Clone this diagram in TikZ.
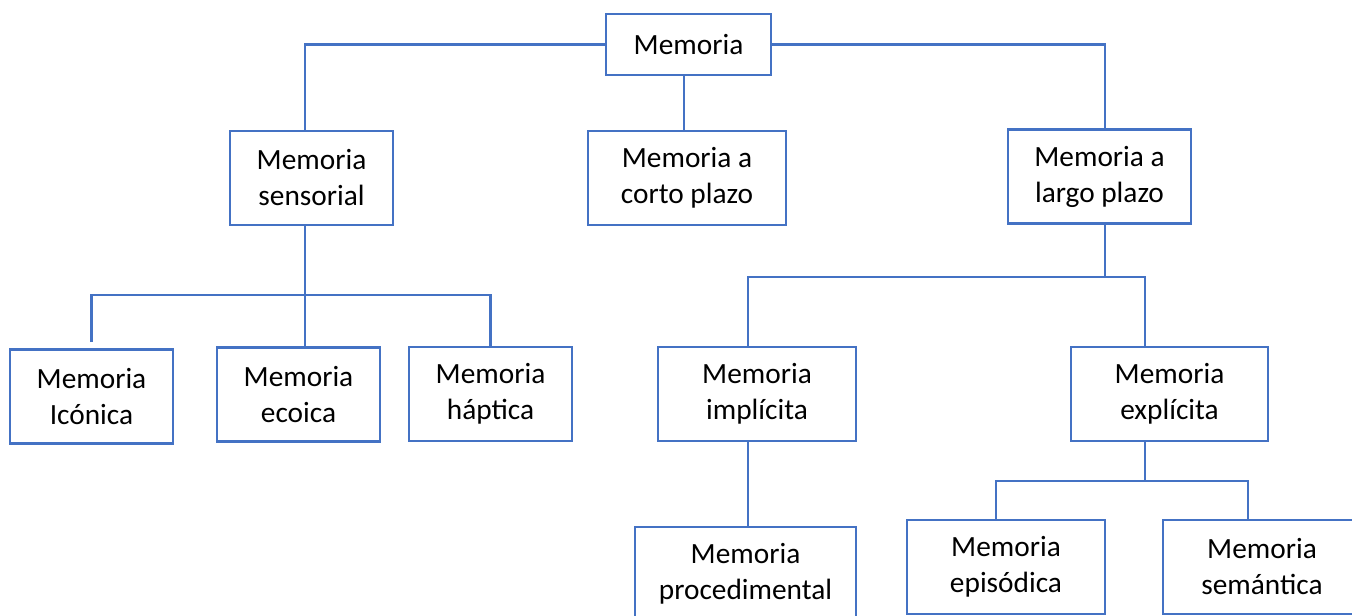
\documentclass[tikz,border=0pt]{standalone}
\usepackage{fontspec}
\setmainfont{Carlito}
\definecolor{memblue}{RGB}{68,114,196}
\begin{document}
\begin{tikzpicture}[x=0.75pt,y=-0.75pt,
    box/.style={draw=memblue,line width=2.2pt,align=center,inner sep=0pt,
      minimum height=70.5pt,font=\fontsize{22}{27}\selectfont},
    link/.style={draw=memblue,line width=2.2pt}]
  \useasboundingbox (0,0) rectangle (1352,616);

  % Top level
  \node[box,minimum width=123.75pt,minimum height=45.75pt] (root) at (688.5,44.5) {Memoria};

  % Second level
  \node[box,minimum width=122.25pt] (sens)  at (311.5,178) {Memoria\\sensorial};
  \node[box,minimum width=148.5pt]  (corto) at (687,178)   {Memoria a\\corto plazo};
  \node[box,minimum width=137.25pt] (largo) at (1099.5,176.5) {Memoria a\\largo plazo};

  % Third level
  \node[box,minimum width=122.25pt] (icon) at (91.5,396.5) {Memoria\\Icónica};
  \node[box,minimum width=122.25pt] (ecoi) at (298.5,394.5) {Memoria\\ecoica};
  \node[box,minimum width=122.25pt] (hapt) at (490.5,394) {Memoria\\háptica};
  \node[box,minimum width=148.5pt]  (impl) at (757,394) {Memoria\\implícita};
  \node[box,minimum width=147.75pt] (expl) at (1169.5,394) {Memoria\\explícita};

  % Fourth level
  \node[box,minimum width=165.75pt] (proc) at (745.5,574) {Memoria\\procedimental};
  \node[box,minimum width=148.5pt]  (epis) at (1006,567) {Memoria\\episódica};
  \node[box,minimum width=148.5pt]  (sema) at (1262,567) {Memoria\\semántica};

  % Junctions
  \coordinate (jC) at (684,0);
  \coordinate (jS) at (305,295);
  \coordinate (jL) at (1105,277);
  \coordinate (jI) at (748,277);
  \coordinate (jE) at (1145,277);
  \coordinate (jX) at (1145,481);
  \coordinate (jEp) at (996,481);
  \coordinate (jSe) at (1248,481);

  % From the root
  \draw[link] (root.west) -| (jS |- sens.north);
  \draw[link] (root.east) -| (jL |- largo.north);
  \draw[link] (jC |- root.south) -- (jC |- corto.north);

  % Sensorial branch
  \draw[link] (jS |- sens.south) -- (jS);
  \draw[link] ([yshift=4.5pt]icon.north) -- (icon.north |- jS) -- (hapt.north |- jS) -- (hapt.north);
  \draw[link] (jS) -- (jS |- ecoi.north);

  % Long-term branch
  \draw[link] (jL |- largo.south) -- (jL);
  \draw[link] (jI |- impl.north) -- (jI) -- (jE) -- (jE |- expl.north);
  \draw[link] (jI |- impl.south) -- (jI |- proc.north);

  % Explicit branch
  \draw[link] (jX |- expl.south) -- (jX);
  \draw[link] (jEp |- epis.north) -- (jEp) -- (jSe) -- (jSe |- sema.north);
\end{tikzpicture}
\end{document}
